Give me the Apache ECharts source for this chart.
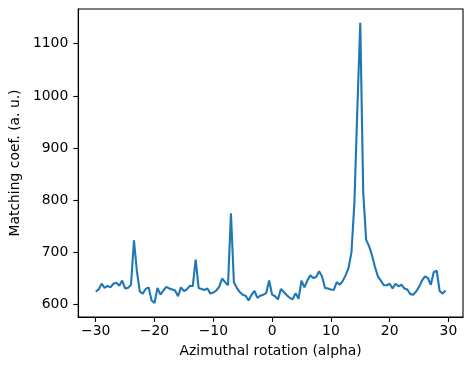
<!DOCTYPE html>
<html>
<head>
<meta charset="utf-8">
<script src="https://cdn.jsdelivr.net/npm/echarts@6/dist/echarts.min.js"></script>
<style>
  html, body { margin: 0; padding: 0; background: #fff; }
  #chart { width: 473px; height: 371px; }
</style>
</head>
<body>
<div id="chart"></div>
<script>
// rotation angle (alpha), 0.5 degree steps
const alpha = [
  -30, -29.5, -29, -28.5, -28, -27.5, -27, -26.5, -26, -25.5,
  -25, -24.5, -24, -23.5, -23, -22.5, -22, -21.5, -21, -20.5,
  -20, -19.5, -19, -18.5, -18, -17.5, -17, -16.5, -16, -15.5,
  -15, -14.5, -14, -13.5, -13, -12.5, -12, -11.5, -11, -10.5,
  -10, -9.5, -9, -8.5, -8, -7.5, -7, -6.5, -6, -5.5,
  -5, -4.5, -4, -3.5, -3, -2.5, -2, -1.5, -1, -0.5,
  0, 0.5, 1, 1.5, 2, 2.5, 3, 3.5, 4, 4.5,
  5, 5.5, 6, 6.5, 7, 7.5, 8, 8.5, 9, 9.5,
  10, 10.5, 11, 11.5, 12, 12.5, 13, 13.5, 14, 14.5,
  15, 15.5, 16, 16.5, 17, 17.5, 18, 18.5, 19, 19.5,
  20, 20.5, 21, 21.5, 22, 22.5, 23, 23.5, 24, 24.5,
  25, 25.5, 26, 26.5, 27, 27.5, 28, 28.5, 29, 29.5
];

// matching coefficient (a. u.)
const matching = [
  625, 629, 640, 632, 636, 633, 640, 642, 636, 646,
  631, 632, 638, 723, 664, 625, 621, 630, 633, 608,
  603, 632, 619, 627, 634, 631, 629, 627, 616, 633,
  626, 629, 636, 635, 686, 632, 630, 628, 631, 621,
  623, 627, 634, 650, 643, 637, 775, 643, 632, 624,
  619, 617, 608, 619, 626, 613, 617, 619, 622, 646,
  619, 616, 610, 630, 624, 618, 613, 610, 622, 611,
  646, 633, 646, 656, 651, 653, 664, 654, 632, 631,
  629, 628, 643, 638, 645, 656, 670, 700, 795, 975,
  1140, 815, 724, 712, 694, 672, 654, 646, 637, 637,
  640, 631, 640, 635, 638, 631, 629, 620, 619, 625,
  634, 646, 654, 651, 638, 662, 665, 626, 621, 627
];

const xTicks = [-30, -20, -10, 0, 10, 20, 30];
const yTicks = [600, 700, 800, 900, 1000, 1100];

const font = "DejaVu Sans";
const fontSize = 13.9;

const chart = echarts.init(document.getElementById("chart"), null, { renderer: "canvas" });

chart.setOption({
  animation: false,
  grid: {
    left: 76,
    right: 10,
    top: 9,
    bottom: 54,
    show: true,
    borderColor: "#000",
    borderWidth: 1.1
  },
  xAxis: {
    type: "value",
    min: -32.975,
    max: 32.475,
    name: "Azimuthal rotation (alpha)",
    nameLocation: "middle",
    nameGap: 27,
    nameTextStyle: { color: "#000", fontFamily: font, fontSize: fontSize },
    splitLine: { show: false },
    axisLine: { show: true, onZero: false, lineStyle: { color: "#000", width: 1.1 } },
    axisTick: {
      show: true,
      length: 4.9,
      lineStyle: { color: "#000", width: 1.1 },
      customValues: xTicks
    },
    axisLabel: {
      color: "#000",
      fontFamily: font,
      fontSize: fontSize,
      margin: 7,
      customValues: xTicks,
      formatter: v => String(v).replace("-", "\u2212")
    }
  },
  yAxis: {
    type: "value",
    min: 576.2,
    max: 1166.6,
    name: "Matching coef. (a. u.)",
    nameLocation: "middle",
    nameGap: 50,
    nameTextStyle: { color: "#000", fontFamily: font, fontSize: fontSize },
    splitLine: { show: false },
    axisLine: { show: true, onZero: false, lineStyle: { color: "#000", width: 1.1 } },
    axisTick: {
      show: true,
      length: 4.9,
      lineStyle: { color: "#000", width: 1.1 },
      customValues: yTicks
    },
    axisLabel: {
      color: "#000",
      fontFamily: font,
      fontSize: fontSize,
      margin: 10,
      customValues: yTicks,
      formatter: v => String(v)
    }
  },
  series: [
    {
      type: "line",
      data: alpha.map((a, i) => [a, matching[i]]),
      showSymbol: false,
      symbol: "none",
      lineStyle: { color: "#1f77b4", width: 2.1 },
      z: 3
    }
  ]
});
</script>
</body>
</html>
